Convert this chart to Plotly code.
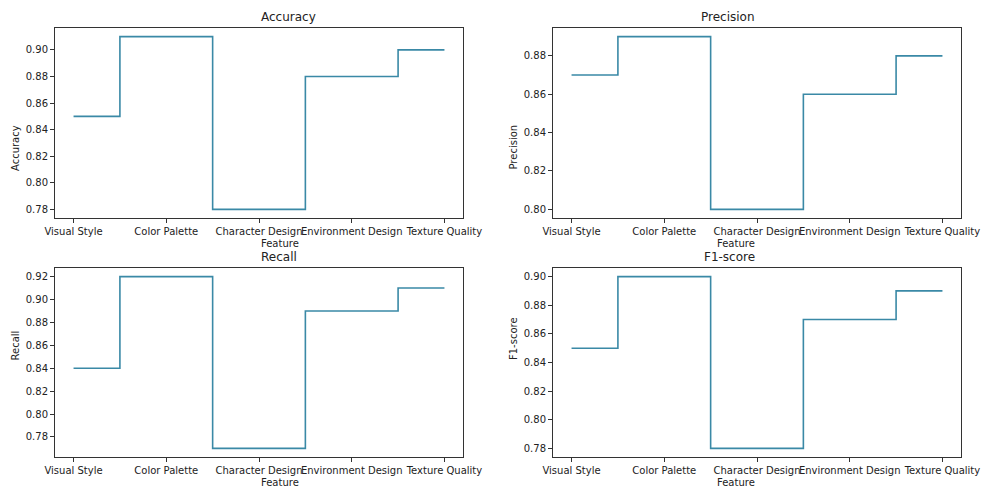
import plotly.graph_objects as go

features = ["Visual Style", "Color Palette", "Character Design", "Environment Design", "Texture Quality"]
accuracy = [0.85, 0.91, 0.78, 0.88, 0.90]
precision = [0.87, 0.89, 0.80, 0.86, 0.88]
recall = [0.84, 0.92, 0.77, 0.89, 0.91]
f1_score = [0.85, 0.90, 0.78, 0.87, 0.89]

metrics = [("Accuracy", accuracy), ("Precision", precision), ("Recall", recall), ("F1-score", f1_score)]

W, H = 984, 488
boxes = [  # left, right, top, bottom in pixels
    (55, 463, 28, 218),
    (553, 961, 28, 218),
    (55, 463, 268, 457),
    (553, 961, 268, 457),
]
yticks_all = [
    [0.78, 0.80, 0.82, 0.84, 0.86, 0.88, 0.90],
    [0.80, 0.82, 0.84, 0.86, 0.88],
    [0.78, 0.80, 0.82, 0.84, 0.86, 0.88, 0.90, 0.92],
    [0.78, 0.80, 0.82, 0.84, 0.86, 0.88, 0.90],
]

color = "#3a89a6"
font_family = "DejaVu Sans"
fig = go.Figure()
annotations = []
layout = {}
for i, ((name, vals), (l, r, t, b)) in enumerate(zip(metrics, boxes)):
    idx = "" if i == 0 else str(i + 1)
    xa, ya = "x" + idx, "y" + idx
    xs = list(range(len(features)))
    fig.add_trace(go.Scatter(x=xs, y=vals, mode="lines", line=dict(color=color, width=1.6, shape="hvh"),
                             xaxis=xa, yaxis=ya, showlegend=False))
    lo, hi = min(vals), max(vals)
    pad = (hi - lo) * 0.05
    common = dict(showline=True, mirror=True, linecolor="#333333", linewidth=1, ticks="outside",
                  ticklen=4, tickcolor="#333333", showgrid=False, zeroline=False, automargin=False,
                  tickfont=dict(family=font_family, size=10, color="#222222"))
    layout["xaxis" + idx] = dict(domain=[l / W, r / W], anchor=ya, range=[-0.2, 4.2],
                                 tickmode="array", tickvals=xs, ticktext=features, tickangle=0,
                                 **common)
    layout["yaxis" + idx] = dict(domain=[1 - b / H, 1 - t / H], anchor=xa, range=[lo - pad, hi + pad],
                                 tickmode="array", tickvals=yticks_all[i],
                                 ticktext=[f"{v:.2f}" for v in yticks_all[i]], **common)
    cx = (l + r) / 2
    annotations.append(dict(text=name, x=cx / W, y=1 - (t - 11) / H, xref="paper", yref="paper",
                            showarrow=False, yanchor="middle",
                            font=dict(family=font_family, size=12, color="#222222")))
    annotations.append(dict(text="Feature", x=cx / W, y=1 - (b + 25) / H, xref="paper", yref="paper",
                            showarrow=False, yanchor="middle",
                            font=dict(family=font_family, size=10, color="#222222")))
    annotations.append(dict(text=name, x=(l - 40) / W, y=1 - ((t + b) / 2) / H, xref="paper", yref="paper",
                            showarrow=False, textangle=-90, xanchor="center",
                            font=dict(family=font_family, size=10, color="#222222")))

fig.update_layout(width=W, height=H, margin=dict(l=0, r=0, t=0, b=0), plot_bgcolor="white",
                  paper_bgcolor="white", annotations=annotations, **layout)
fig.write_html("out.html", config={"displayModeBar": False},
               post_script="document.body.style.margin='0';document.body.style.overflow='hidden';")
